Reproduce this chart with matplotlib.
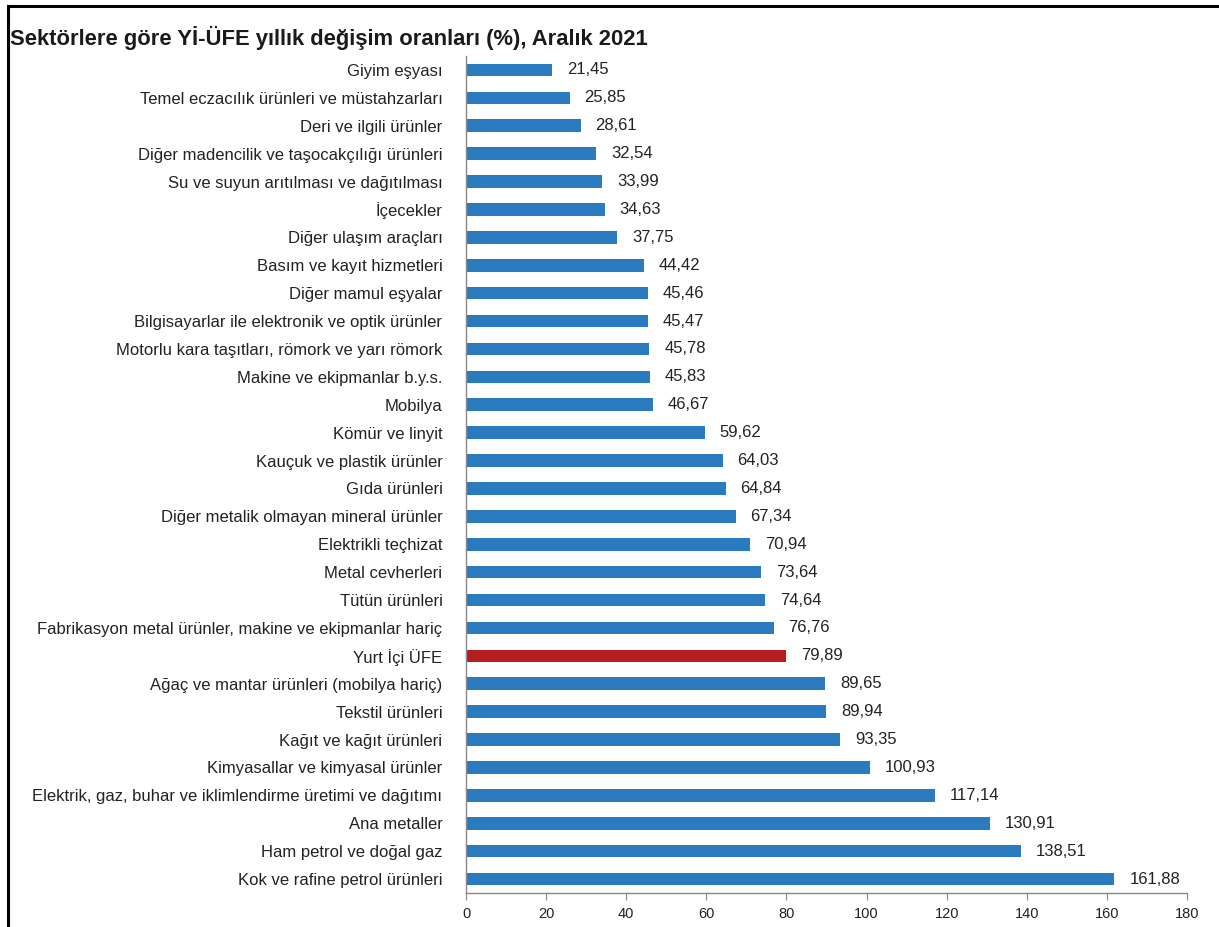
import matplotlib.pyplot as plt
from matplotlib.lines import Line2D

plt.rcParams['font.family'] = ['Liberation Sans', 'DejaVu Sans']

# Data (top to bottom as shown)
sectors = [
    'Giyim eşyası',
    'Temel eczacılık ürünleri ve müstahzarları',
    'Deri ve ilgili ürünler',
    'Diğer madencilik ve taşocakçılığı ürünleri',
    'Su ve suyun arıtılması ve dağıtılması',
    'İçecekler',
    'Diğer ulaşım araçları',
    'Basım ve kayıt hizmetleri',
    'Diğer mamul eşyalar',
    'Bilgisayarlar ile elektronik ve optik ürünler',
    'Motorlu kara taşıtları, römork ve yarı römork',
    'Makine ve ekipmanlar b.y.s.',
    'Mobilya',
    'Kömür ve linyit',
    'Kauçuk ve plastik ürünler',
    'Gıda ürünleri',
    'Diğer metalik olmayan mineral ürünler',
    'Elektrikli teçhizat',
    'Metal cevherleri',
    'Tütün ürünleri',
    'Fabrikasyon metal ürünler, makine ve ekipmanlar hariç',
    'Yurt İçi ÜFE',
    'Ağaç ve mantar ürünleri (mobilya hariç)',
    'Tekstil ürünleri',
    'Kağıt ve kağıt ürünleri',
    'Kimyasallar ve kimyasal ürünler',
    'Elektrik, gaz, buhar ve iklimlendirme üretimi ve dağıtımı',
    'Ana metaller',
    'Ham petrol ve doğal gaz',
    'Kok ve rafine petrol ürünleri',
]
values = [21.45, 25.85, 28.61, 32.54, 33.99, 34.63, 37.75, 44.42, 45.46, 45.47,
          45.78, 45.83, 46.67, 59.62, 64.03, 64.84, 67.34, 70.94, 73.64, 74.64,
          76.76, 79.89, 89.65, 89.94, 93.35, 100.93, 117.14, 130.91, 138.51, 161.88]
highlight = 'Yurt İçi ÜFE'

blue = '#2a7bc0'
red = '#b21d1f'
colors = [red if s == highlight else blue for s in sectors]

fig = plt.figure(figsize=(12.19, 9.27), dpi=100)
ax = fig.add_axes([0.3823, 0.0367, 0.5915, 0.9029])

ypos = list(range(len(sectors)))
ax.barh(ypos, values, height=0.45, color=colors)
ax.set_ylim(len(sectors) - 0.5, -0.5)
ax.set_xlim(0, 180)
ax.set_xticks(range(0, 181, 20))
ax.set_yticks(ypos)
ax.set_yticklabels(sectors, fontsize=12, color='#222222')
ax.tick_params(axis='y', length=0, pad=17)
ax.tick_params(axis='x', length=5, color='#888888', labelsize=10.5, pad=5, labelcolor='#222222')

for y, v in zip(ypos, values):
    ax.text(v + 3.7, y, f'{v:.2f}'.replace('.', ','), va='center', ha='left',
            fontsize=12, color='#222222')

for side in ['top', 'right']:
    ax.spines[side].set_visible(False)
for side in ['left', 'bottom']:
    ax.spines[side].set_color('#888888')
    ax.spines[side].set_linewidth(1)

fig.text(0.008, 0.959, 'Sektörlere göre Yİ-ÜFE yıllık değişim oranları (%), Aralık 2021',
         fontsize=15.8, fontweight='bold', color='#1a1a1a', va='center', ha='left')

# frame lines (top and left)
fig.add_artist(Line2D([0.0065, 1.0], [0.9935, 0.9935], color='black', lw=2.2,
                      transform=fig.transFigure))
fig.add_artist(Line2D([0.0065, 0.0065], [0.0, 0.9935], color='black', lw=2.2,
                      transform=fig.transFigure))

fig.savefig('out.png', dpi=100)
